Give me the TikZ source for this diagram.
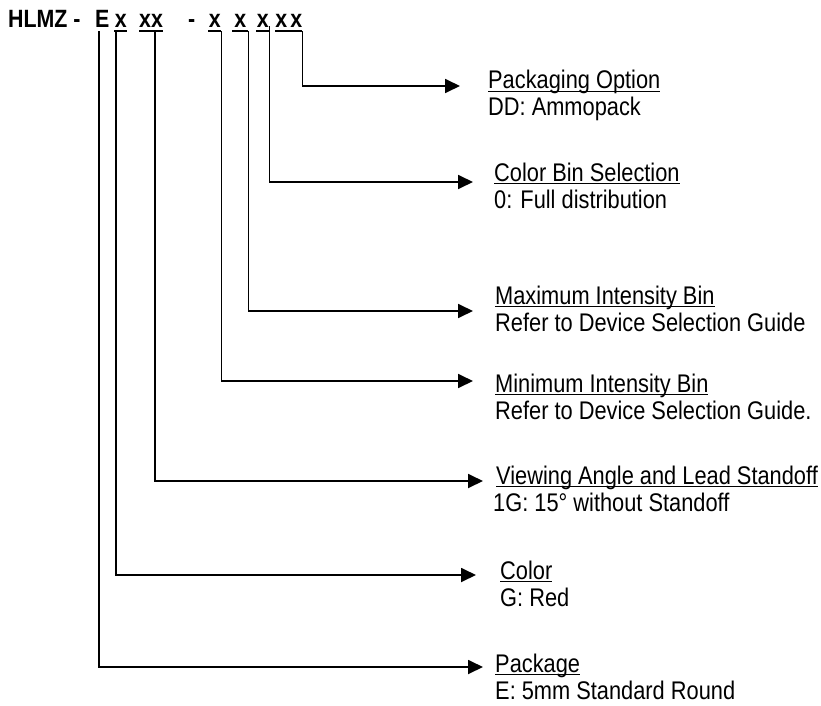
\documentclass[tikz,border=0pt]{standalone}
\usepackage{fontspec}
\setmainfont{Liberation Sans}[FakeStretch=0.855]
\usetikzlibrary{arrows.meta}
\newcommand{\subrayado}[1]{\setbox0=\hbox{#1}\rlap{\vrule width\wd0 height-1.6pt depth3.4pt}\box0}
\begin{document}
\begin{tikzpicture}[x=1pt,y=-1pt,
    hdr/.style={anchor=base west,inner xsep=0pt,inner ysep=3pt,font=\fontsize{25}{28}\selectfont\bfseries},
    lbl/.style={anchor=base west,inner sep=0pt,font=\fontsize{25.5}{27}\selectfont},
    linea/.style={line width=1.8pt},
    flecha/.style={line width=1.8pt,-{Triangle[length=15pt,width=14pt]}}]
    \useasboundingbox (0,0) rectangle (821,706);
    % Encabezado con el codigo de pedido
    \node[hdr] (hlmz) at (8,28) {HLMZ -};
    \node[hdr] (e) at (95,28) {E};
    \node[hdr,minimum width=13pt] (xa) at (114,28) {x};
    \node[hdr,minimum width=23pt] (xb) at (139,28) {xx};
    \node[hdr] (guion) at (188,28) {-};
    \node[hdr,minimum width=13pt] (xc) at (208,28) {x};
    \node[hdr,minimum width=16pt] (xd) at (232,28) {x};
    \node[hdr,minimum width=13pt] (xf) at (256,28) {x};
    \node[hdr,minimum width=12pt] (xg) at (275,28) {x};
    \node[hdr,minimum width=12pt] (xh) at (290,28) {x};
    \draw[linea] (xa.south west) -- (xa.south east);
    \draw[linea] (xb.south west) -- (xb.south east);
    \draw[linea] (xc.south west) -- (xc.south east);
    \draw[linea] (xd.south west) -- (xd.south east);
    \draw[linea] (xf.south west) -- (xf.south east);
    \draw[linea] (xg.south west) -- (xh.south east);
    % Textos de cada campo
    \node[lbl] (tOpt) at (488,89) {\subrayado{Packaging Option}};
    \node[lbl] (sOpt) at (488,116) {DD: Ammopack};
    \node[lbl] (tBin) at (494,181) {\subrayado{Color Bin Selection}};
    \node[lbl] (sBin) at (494,208) {0: Full distribution};
    \node[lbl] (tMax) at (495,304) {\subrayado{Maximum Intensity Bin}};
    \node[lbl] (sMax) at (495,331) {Refer to Device Selection Guide};
    \node[lbl] (tMin) at (495,392) {\subrayado{Minimum Intensity Bin}};
    \node[lbl] (sMin) at (495,419) {Refer to Device Selection Guide.};
    \node[lbl] (tVa) at (496,484) {\subrayado{Viewing Angle and Lead Standoff}};
    \node[lbl] (sVa) at (493,511) {1G: 15° without Standoff};
    \node[lbl] (tCol) at (500,579) {\subrayado{Color}};
    \node[lbl] (sCol) at (500,606) {G: Red};
    \node[lbl] (tPkg) at (495,672) {\subrayado{Package}};
    \node[lbl] (sPkg) at (495,699) {E: 5mm Standard Round};
    % Puntas de las flechas
    \coordinate (pOpt) at (460,86);
    \coordinate (pBin) at (473,182);
    \coordinate (pMax) at (473,311);
    \coordinate (pMin) at (473,381);
    \coordinate (pVa) at (483,481);
    \coordinate (pCol) at (476,575);
    \coordinate (pPkg) at (483,667);
    \draw[flecha] ([xshift=-3pt]e.south) |- (pPkg);
    \draw[flecha] ([xshift=2pt]xa.south west) |- (pCol);
    \draw[flecha] ([xshift=4pt]xb.south) |- (pVa);
    \draw[flecha] (xc.south east) |- (pMin);
    \draw[flecha] (xd.south east) |- (pMax);
    \draw[flecha] ([yshift=5pt]xf.south east) |- (pBin);
    \draw[flecha] (xh.south east) |- (pOpt);
\end{tikzpicture}
\end{document}
